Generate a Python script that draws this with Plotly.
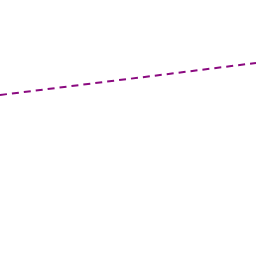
import plotly.graph_objects as go

x_vals = [0, 180, 256]
y_vals = [161, 183, 193]

fig = go.Figure()
fig.add_trace(go.Scatter(
    x=x_vals, y=y_vals, mode="lines",
    line=dict(color="#8B0A80", width=2, dash="7px,5px"),
    showlegend=False, hoverinfo="skip",
))
fig.update_layout(
    width=256, height=256,
    margin=dict(l=0, r=0, t=0, b=0),
    paper_bgcolor="white", plot_bgcolor="white",
    xaxis=dict(range=[0, 256], visible=False),
    yaxis=dict(range=[0, 256], visible=False),
)
fig.write_html("out.html")
